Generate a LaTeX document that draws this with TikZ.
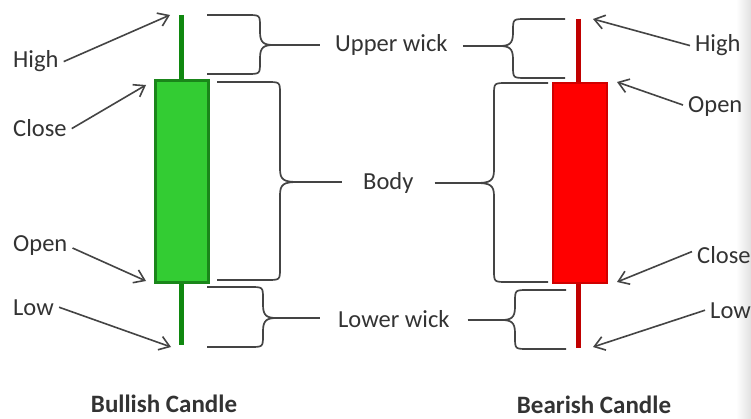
\documentclass[tikz,border=0pt]{standalone}
\usepackage{fontspec}
\setmainfont{Carlito}
\usetikzlibrary{arrows.meta}
\definecolor{txt}{HTML}{333333}
\definecolor{ln}{HTML}{444444}
\definecolor{gfill}{HTML}{33CC33}
\definecolor{gedge}{HTML}{1A861A}
\definecolor{gwick}{HTML}{108810}
\definecolor{rfill}{HTML}{FF0000}
\definecolor{redge}{HTML}{D00000}
\definecolor{rwick}{HTML}{C00000}
\tikzset{
  lbl/.style={text=txt, font=\fontsize{24.5}{28}\selectfont, inner sep=5pt},
  mid/.style={lbl, inner xsep=14pt},
  ttl/.style={text=txt, font=\fontsize{25}{30}\selectfont\bfseries, inner sep=0pt},
  arr/.style={draw=ln, line width=1.6pt, -{Straight Barb[length=10pt,width=14pt]}},
  brc/.style={draw=ln, line width=1.7pt},
  tipline/.style={draw=ln, line width=1.7pt},
}
% brace: x0, ytop, ybot, xvertical, xtip, ymid, dir(+1 right,-1 left), name
\newcommand\CandleBrace[8]{%
  \draw[brc] (#1,#2) -- ({#4-13*#7},#2) .. controls (#4,#2) .. (#4,{#2+12})
    -- (#4,{#6-13}) .. controls (#4,{#6-2}) and ({#4+4*#7},#6) .. (#5,#6)
    .. controls ({#4+4*#7},#6) and (#4,{#6+2}) .. (#4,{#6+13}) -- (#4,{#3-12})
    .. controls (#4,#3) .. ({#4-13*#7},#3) -- (#1,#3);
  \coordinate (#8) at (#5,#6);}
\begin{document}
\begin{tikzpicture}[x=1pt,y=-1pt]
\useasboundingbox (0,0) rectangle (751,419);
\fill[white] (0,0) rectangle (751,419);
\shade[left color=white,right color=black!12] (736,0) rectangle (751,419);

% bullish candle
\draw[gwick, line width=5pt] (181,15) -- (181,82);
\draw[gwick, line width=5pt] (181,281) -- (181,345);
\filldraw[fill=gfill, draw=gedge, line width=3pt] (155,81) rectangle (208,282);
\coordinate (gHigh) at (170,15);
\coordinate (gClose) at (146,85);
\coordinate (gOpen) at (146,281);
\coordinate (gLow) at (171,347);

% bearish candle
\draw[rwick, line width=5pt] (578,19) -- (578,84);
\draw[rwick, line width=5pt] (578,282) -- (578,348);
\filldraw[fill=rfill, draw=redge, line width=2pt] (553,83) rectangle (607,283);
\coordinate (rHigh) at (593,19);
\coordinate (rOpen) at (617,82);
\coordinate (rClose) at (617,282);
\coordinate (rLow) at (593,347);

% braces
\CandleBrace{207}{15}{74}{260}{274}{45}{1}{tUL}
\CandleBrace{217}{82}{280}{280}{298}{182}{1}{tBL}
\CandleBrace{207}{287}{347}{263}{277}{318}{1}{tLL}
\CandleBrace{565}{19}{78}{513}{499}{46}{-1}{tUR}
\CandleBrace{548}{83}{282}{494}{476}{183}{-1}{tBR}
\CandleBrace{566}{290}{349}{515}{501}{320}{-1}{tLR}

% middle labels
\node[mid, anchor=base west, inner xsep=15pt] (uw) at (320,52) {Upper wick};
\node[mid, anchor=base west, inner xsep=21pt] (bd) at (342,190) {Body};
\node[mid, anchor=base west, inner xsep=18pt] (lw) at (320,327) {Lower wick};
\draw[tipline] (tUL) -- (tUL -| uw.west);
\draw[tipline] (uw.east |- tUR) -- (tUR);
\draw[tipline] (tBL) -- (tBL -| bd.west);
\draw[tipline] (bd.east |- tBR) -- (tBR);
\draw[tipline] (tLL) -- (tLL -| lw.west);
\draw[tipline] (lw.east |- tLR) -- (tLR);

% left labels
\node[lbl, anchor=base west] (hiL) at (8,68) {High};
\node[lbl, anchor=base west] (clL) at (8,137) {Close};
\node[lbl, anchor=base west] (opL) at (8,252) {Open};
\node[lbl, anchor=base west] (loL) at (8,315) {Low};
\draw[arr] (hiL.east) -- (gHigh);
\draw[arr] (clL.east) -- (gClose);
\draw[arr] ([yshift=-2pt]opL.east) -- (gOpen);
\draw[arr] (loL.east) -- (gLow);

% right labels
\node[lbl, anchor=base west] (hiR) at (690,52) {High};
\node[lbl, anchor=base west] (opR) at (683,113) {Open};
\node[lbl, anchor=base west] (clR) at (692,263) {Close};
\node[lbl, anchor=base west] (loR) at (705,318) {Low};
\draw[arr] (hiR.west) -- (rHigh);
\draw[arr] ([yshift=2pt]opR.west) -- (rOpen);
\draw[arr] ([yshift=3pt]clR.west) -- (rClose);
\draw[arr] (loR.west) -- (rLow);

% titles
\node[ttl, anchor=base] (tb) at (164,412) {Bullish Candle};
\node[ttl, anchor=base] (tr) at (594,413) {Bearish Candle};
\end{tikzpicture}
\end{document}
